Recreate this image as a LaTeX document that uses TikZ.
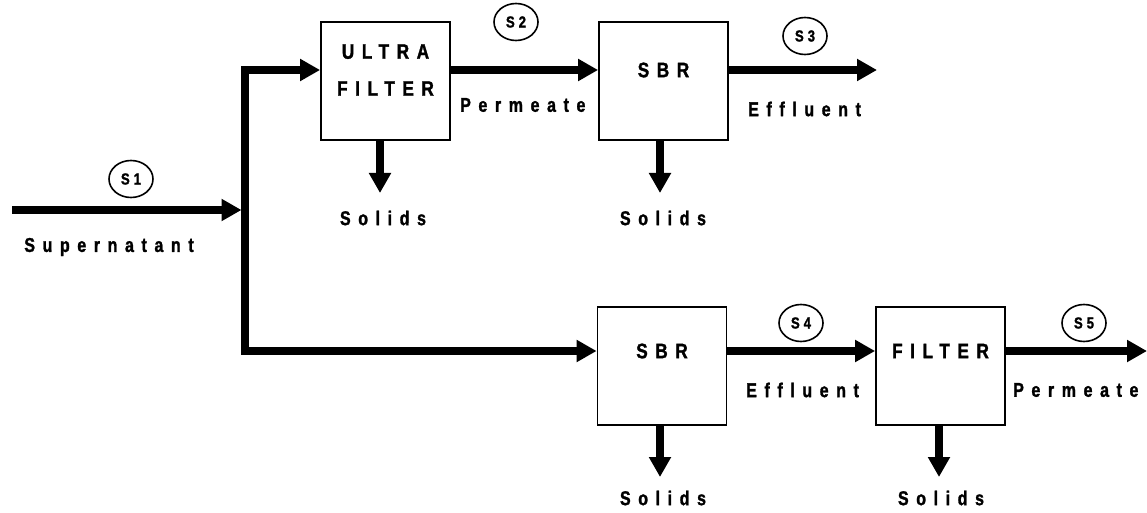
\documentclass[tikz,border=0pt]{standalone}
\usepackage{fontspec}
\setmainfont{Liberation Sans}
\newfontfamily\lblfam[LetterSpace=38,FakeStretch=0.8,FakeBold=1.4]{Liberation Sans Bold}
\newfontfamily\boxfam[LetterSpace=36,FakeStretch=0.82,FakeBold=1.4]{Liberation Sans Bold}
\newfontfamily\tagfam[LetterSpace=25,FakeStretch=0.82,FakeBold=1.4]{Liberation Sans Bold}
\usetikzlibrary{arrows.meta,shapes.geometric}
\begin{document}
\begin{tikzpicture}[x=1pt,y=-1pt,
  flow/.style={line width=7.5pt,-{Triangle[length=20pt,width=21pt]}},
  flowboth/.style={line width=7.5pt,{Triangle[length=20pt,width=21pt]}-{Triangle[length=20pt,width=21pt]}},
  unit/.style={draw,line width=1.8pt,minimum width=129pt,minimum height=118pt,inner sep=0pt},
  unittext/.style={inner sep=0pt,align=center,font=\boxfam\fontsize{21}{37}\selectfont},
  tag/.style={draw,ellipse,line width=1.6pt,minimum width=44pt,minimum height=37pt,inner sep=0pt,
    font=\tagfam\fontsize{16}{16}\selectfont},
  lbl/.style={inner sep=0pt,font=\lblfam\fontsize{20}{20}\selectfont}]
\useasboundingbox (0,0) rectangle (1147,513);
\fill[white] (0,0) rectangle (1147,513);

% flow rows and free ends
\coordinate (jt)  at (245,70);
\coordinate (jb)  at (245,351);
\coordinate (in0) at (12,210);
\coordinate (jin) at (241.5,210);
\coordinate (out3) at (877,70);
\coordinate (out5) at (1147,351);

% units
\node[unit] (uf)   at (385.5,81)  {};
\node[unit] (sbr1) at (663.5,81)  {};
\node[unit] (sbr2) at (662,366)   {};
\node[unit] (flt)  at (940.5,366) {};
\node[unittext] (tuf)   at (uf.center |- jt)   {ULTRA\\FILTER};
\node[unittext] (tsbr1) at (sbr1.center |- jt) {SBR};
\node[unittext] (tsbr2) at (sbr2.center |- jb) {SBR};
\node[unittext] (tflt)  at (flt.center |- jb)  {FILTER};

% solids ends
\coordinate (s1e) at (380,193);
\coordinate (s2e) at (660,193);
\coordinate (s3e) at (660,477);
\coordinate (s4e) at (939,477);

% streams
\draw[flow] (in0) -- (jin);
\draw[flowboth] (uf.west |- jt) -- (jt) -- (jb) -- (sbr2.west |- jb);
\draw[flow] (uf.east |- jt) -- (sbr1.west |- jt);
\draw[flow] (sbr1.east |- jt) -- (out3);
\draw[flow] (sbr2.east |- jb) -- (flt.west |- jb);
\draw[flow] (flt.east |- jb) -- (out5);

% solids
\draw[flow] (uf.south -| s1e) -- (s1e);
\draw[flow] (sbr1.south -| s2e) -- (s2e);
\draw[flow] (sbr2.south -| s3e) -- (s3e);
\draw[flow] (flt.south -| s4e) -- (s4e);

% stream tags
\node[tag] (t1) at (131,179) {S1};
\node[tag] (t2) at (516,22)  {S2};
\node[tag] (t3) at (805,36)  {S3};
\node[tag] (t4) at (801,323) {S4};
\node[tag] (t5) at (1084,323) {S5};

% labels
\node[lbl] (lsup) at (109,247) {Supernatant};
\node[lbl,anchor=west] (lper1) at (460,105) {Permeate};
\node[lbl,anchor=west] (leff1) at (748,109) {Effluent};
\node[lbl,anchor=west] (leff2) at (746,390) {Effluent};
\node[lbl,anchor=west] (lper2) at (1013,390) {Permeate};
\node[lbl] (lsol1) at (383,218) {Solids};
\node[lbl] (lsol2) at (663,218) {Solids};
\node[lbl] (lsol3) at (663,498) {Solids};
\node[lbl] (lsol4) at (941,498) {Solids};
\end{tikzpicture}
\end{document}
